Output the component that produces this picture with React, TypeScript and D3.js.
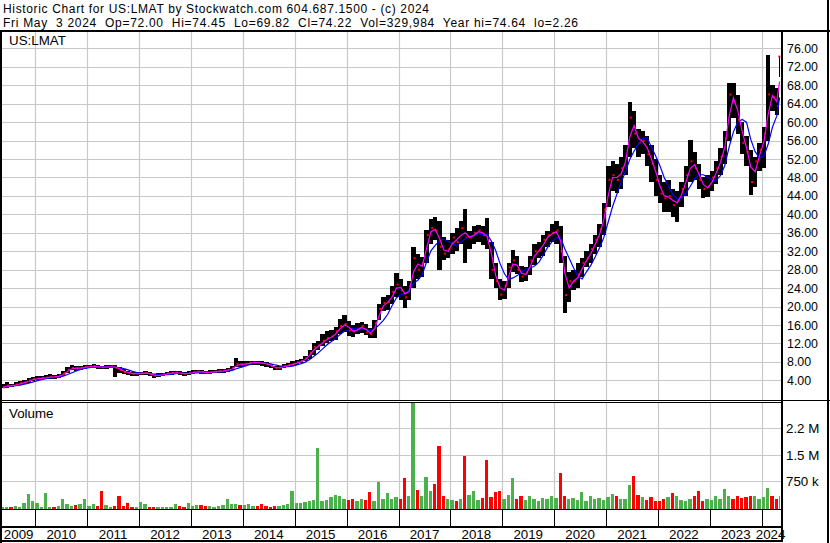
import React, { useEffect, useRef } from "react";
import * as d3 from "d3";

const WIDTH = 830;
const HEIGHT = 543;
const FONT = "'Liberation Sans', Arial, sans-serif";

// first monthly bar, and the last trading day on the chart
const FIRST_MONTH = new Date(2009, 4, 1);
const LAST_DAY = new Date(2024, 4, 3);

const headerLines = [
  "Historic Chart for US:LMAT by Stockwatch.com 604.687.1500 - (c) 2024",
  "Fri May  3 2024  Op=72.00  Hi=74.45  Lo=69.82  Cl=74.22  Vol=329,984  Year hi=74.64  lo=2.26"
];
const headerWidths = [426, 575];
const symbol = "US:LMAT";
const years = [2009, 2010, 2011, 2012, 2013, 2014, 2015, 2016, 2017, 2018, 2019, 2020, 2021, 2022, 2023, 2024];
const priceTicks = [4, 8, 12, 16, 20, 24, 28, 32, 36, 40, 44, 48, 52, 56, 60, 64, 68, 72, 76];
const volumeTicks = [750000, 1500000, 2250000];
const volumeTickLabels = ["750 k", "1.5 M", "2.2 M"];

// monthly highs, May 2009 .. May 2024
const highs = [
  3.2, 3.6, 3.3, 3.6, 3.9, 4.1, 4.6, 4.8,
  4.9, 4.9, 5.1, 5.3, 5.2, 5.4, 6.0, 7.0, 7.3, 7.1, 7.1, 7.3,
  7.4, 7.5, 7.3, 7.2, 7.3, 7.4, 7.3, 6.9, 6.4, 6.1, 5.9, 5.9,
  5.9, 6.0, 5.8, 5.4, 5.5, 5.7, 5.9, 6.0, 6.1, 6.0, 5.8, 6.0,
  6.2, 6.3, 6.2, 6.1, 6.2, 6.3, 6.4, 6.5, 6.7, 7.1, 8.9, 8.1,
  8.2, 8.3, 8.3, 8.2, 8.1, 7.9, 7.6, 7.2, 7.2, 7.5, 7.8, 8.1,
  8.4, 8.7, 9.3, 10.6, 12.2, 12.6, 14.0, 14.6, 14.9, 15.6, 17.2, 18.2,
  16.8, 16.0, 16.4, 16.6, 16.2, 15.4, 17.0, 20.5, 22.0, 22.6, 24.4, 27.3,
  26.0, 24.5, 25.5, 33.0, 31.5, 30.8, 36.6, 39.0, 39.5, 38.5, 35.0, 34.4,
  36.0, 37.0, 38.5, 41.2, 36.5, 37.4, 37.8, 37.5, 39.2, 34.0, 29.5, 26.0,
  25.5, 29.5, 32.3, 31.0, 28.8, 28.6, 31.0, 33.5, 34.0, 35.5, 36.5, 38.0,
  38.5, 37.5, 31.0, 27.5, 28.0, 29.5, 30.5, 32.0, 33.5, 35.5, 38.0, 42.5,
  50.5, 51.5, 51.0, 52.5, 55.0, 64.4, 62.5, 58.5, 58.0, 57.0, 55.0, 52.0,
  48.5, 47.0, 47.5, 45.5, 45.0, 47.0, 50.5, 56.1, 53.5, 51.0, 48.0, 48.5,
  49.5, 51.5, 54.5, 58.0, 68.5, 68.5, 66.0, 60.0, 57.0, 54.0, 52.5, 55.5,
  59.0, 74.6, 68.0, 67.5, 74.45
];

// monthly lows
const lows = [
  2.26, 2.4, 2.5, 2.7, 3.0, 3.2, 3.5, 3.9,
  4.0, 4.1, 4.2, 4.4, 4.3, 4.6, 5.0, 5.6, 6.2, 6.1, 6.2, 6.4,
  6.6, 6.7, 6.5, 6.4, 6.5, 6.6, 4.8, 5.7, 5.3, 5.1, 5.0, 5.0,
  5.1, 5.2, 4.9, 4.5, 4.7, 4.9, 5.1, 5.2, 5.3, 5.1, 5.0, 5.2,
  5.4, 5.5, 5.4, 5.3, 5.4, 5.5, 5.6, 5.7, 5.9, 6.2, 6.8, 7.0,
  7.1, 7.3, 7.4, 7.3, 7.2, 7.0, 6.6, 6.2, 6.3, 6.7, 6.9, 7.2,
  7.4, 7.8, 8.1, 8.7, 9.6, 10.6, 11.4, 12.0, 12.6, 12.7, 14.1, 14.4,
  13.6, 13.4, 14.0, 14.2, 13.8, 13.2, 13.2, 17.0, 19.0, 19.3, 20.6, 22.0,
  21.5, 19.7, 21.5, 24.0, 26.0, 26.5, 29.5, 33.5, 34.5, 28.0, 30.0, 30.5,
  31.5, 32.0, 33.5, 29.4, 32.5, 33.5, 34.0, 33.4, 32.5, 26.0, 24.0, 21.4,
  21.6, 24.0, 27.5, 27.0, 25.3, 25.6, 26.8, 29.0, 30.5, 31.0, 33.0, 34.0,
  33.5, 29.5, 18.6, 21.0, 23.6, 24.0, 26.5, 28.5, 29.5, 31.5, 33.0, 35.5,
  41.5, 45.0, 44.6, 45.5, 48.5, 52.5, 54.5, 52.5, 53.0, 50.5, 47.0, 44.0,
  42.5, 40.5, 40.5, 39.5, 38.4, 41.5, 44.0, 47.0, 47.5, 45.5, 43.5, 43.8,
  45.0, 46.5, 48.5, 51.0, 56.0, 61.0, 57.5, 53.0, 50.5, 44.2, 46.0, 49.5,
  50.0, 56.0, 62.5, 61.5, 69.82
];

// monthly closes
const closes = [
  2.5, 2.9, 2.8, 3.1, 3.4, 3.6, 4.0, 4.3,
  4.4, 4.5, 4.6, 4.8, 4.7, 5.0, 5.5, 6.3, 6.7, 6.6, 6.7, 6.9,
  7.0, 7.1, 6.9, 6.8, 6.9, 7.0, 6.8, 6.2, 5.8, 5.6, 5.4, 5.5,
  5.5, 5.6, 5.3, 5.0, 5.1, 5.3, 5.5, 5.6, 5.7, 5.5, 5.4, 5.6,
  5.8, 5.9, 5.8, 5.7, 5.8, 5.9, 6.0, 6.1, 6.3, 6.6, 7.6, 7.4,
  7.6, 7.8, 7.9, 7.8, 7.7, 7.5, 7.1, 6.6, 6.8, 7.1, 7.3, 7.6,
  7.9, 8.2, 8.8, 10.0, 11.2, 11.6, 12.6, 13.2, 13.5, 14.6, 15.8, 16.2,
  14.8, 14.6, 15.2, 15.8, 14.4, 14.0, 16.4, 19.5, 20.8, 21.0, 23.2, 24.8,
  23.5, 22.0, 24.5, 30.5, 28.0, 29.5, 35.5, 37.0, 36.5, 33.0, 31.5, 32.5,
  35.0, 34.0, 37.0, 35.0, 35.0, 36.0, 36.5, 35.5, 35.0, 28.0, 25.5, 22.6,
  24.5, 28.5, 30.0, 28.0, 26.5, 27.4, 30.0, 32.0, 32.2, 34.5, 35.5, 36.0,
  36.5, 32.0, 22.5, 25.5, 25.5, 27.0, 29.5, 30.5, 32.5, 34.5, 36.8, 41.0,
  47.5, 48.5, 47.5, 50.0, 52.5, 61.0, 57.5, 55.5, 56.0, 53.0, 51.0, 47.5,
  44.5, 43.5, 44.0, 42.0, 43.0, 45.5, 48.5, 51.5, 50.0, 47.5, 45.5, 46.0,
  48.0, 50.0, 52.5, 56.5, 66.0, 64.5, 60.5, 55.5, 53.5, 47.0, 51.5, 54.0,
  57.5, 66.0, 65.5, 63.5, 74.22
];

// typical weekly volume in each month, thousands of shares
const volumes = [
  40, 35, 30, 50, 40, 140, 390, 200,
  150, 40, 420, 40, 35, 60, 250, 100, 50, 80, 120, 250,
  60, 120, 60, 480, 80, 40, 50, 340, 60, 150, 40, 35,
  170, 120, 40, 35, 35, 40, 35, 40, 120, 50, 40, 150,
  70, 90, 80, 70, 50, 40, 50, 80, 260, 120, 110, 90,
  80, 110, 60, 50, 110, 60, 40, 50, 60, 80, 100, 480,
  130, 140, 160, 200, 220, 1690, 210, 230, 300, 360, 340, 240,
  230, 260, 200, 240, 230, 450, 200, 730, 240, 420, 240, 300,
  250, 850, 330, 3000, 500, 330, 870, 480, 680, 1750, 330, 250,
  220, 200, 240, 1470, 380, 480, 220, 280, 1360, 300, 450, 480,
  240, 380, 850, 240, 330, 220, 350, 240, 200, 280, 260, 330,
  280, 990, 350, 240, 280, 220, 450, 200, 330, 260, 280, 220,
  300, 400, 350, 240, 240, 650, 900, 380, 300, 220, 300, 200,
  210, 240, 320, 420, 330, 220, 200, 240, 340, 480, 200, 240,
  220, 330, 240, 540, 330, 240, 350, 280, 310, 330, 350, 240,
  310, 570, 350, 240, 330
];

const frame = {
  left: 2,
  right: 781,
  priceTop: 32,
  priceBottom: 400,
  volumeTop: 402,
  volumeBottom: 509,
  tickBottom: 527,
  bottom: 541
};

const movingAverage = (values: number[], n: number) =>
  values.map((_, i) => d3.mean(values.slice(Math.max(0, i - n + 1), i + 1)) as number);

export default function App() {
  const ref = useRef<SVGSVGElement>(null);

  useEffect(() => {
    const svg = d3.select(ref.current);
    svg.selectAll("*").remove();

    const x = d3
      .scaleTime()
      .domain([new Date(2010, 0, 1), new Date(2024, 0, 1)])
      .range([35.3, 761.7]);
    const y = d3.scaleLinear().domain([0, 76]).range([398.8, 48.4]);
    const yv = d3.scaleLinear().domain([0, 2250000]).range([508, 428.3]);

    const bars = closes.map((c, i) => {
      const start = d3.timeMonth.offset(FIRST_MONTH, i);
      const next = d3.timeMonth.offset(FIRST_MONTH, i + 1);
      const x0 = x(start);
      const x1 = Math.max(x(next < LAST_DAY ? next : LAST_DAY), x0 + 1.5);
      return {
        x0,
        x1,
        high: highs[i],
        low: lows[i],
        close: c,
        volume: volumes[i] * 1000,
        up: i === 0 || c >= closes[i - 1]
      };
    });

    const fast = movingAverage(closes, 2);
    const slow = movingAverage(closes, 5);

    svg.append("rect").attr("width", WIDTH).attr("height", HEIGHT).attr("fill", "#fff");

    const defs = svg.append("defs");
    defs
      .append("clipPath")
      .attr("id", "price-clip")
      .append("rect")
      .attr("x", frame.left)
      .attr("y", frame.priceTop)
      .attr("width", frame.right - frame.left)
      .attr("height", frame.priceBottom - frame.priceTop);
    defs
      .append("clipPath")
      .attr("id", "volume-clip")
      .append("rect")
      .attr("x", frame.left)
      .attr("y", frame.volumeTop)
      .attr("width", frame.right - frame.left)
      .attr("height", frame.volumeBottom - frame.volumeTop);

    const yearStarts = years.slice(1).map(yr => new Date(yr, 0, 1));
    const grid = svg.append("g").attr("stroke", "#c8c8c8").attr("stroke-width", 1.2);

    // vertical year grid in both panels
    grid
      .selectAll(".vgrid")
      .data(yearStarts)
      .enter()
      .append("path")
      .attr("d", d => {
        const gx = Math.round(x(d)) + 0.5;
        return `M${gx},${frame.priceTop}V${frame.priceBottom}M${gx},${frame.volumeTop}V${frame.volumeBottom}`;
      });

    grid
      .selectAll(".pgrid")
      .data(priceTicks)
      .enter()
      .append("line")
      .attr("x1", frame.left)
      .attr("x2", frame.right)
      .attr("y1", d => Math.round(y(d)) + 0.5)
      .attr("y2", d => Math.round(y(d)) + 0.5);

    grid
      .selectAll(".vgrid2")
      .data(volumeTicks)
      .enter()
      .append("line")
      .attr("x1", frame.left)
      .attr("x2", frame.right)
      .attr("y1", d => Math.round(yv(d)) + 0.5)
      .attr("y2", d => Math.round(yv(d)) + 0.5);

    // price bars
    const price = svg.append("g").attr("clip-path", "url(#price-clip)");
    price
      .selectAll(".bar")
      .data(bars)
      .enter()
      .append("rect")
      .attr("x", d => d.x0)
      .attr("width", d => d.x1 - d.x0)
      .attr("y", d => y(d.high))
      .attr("height", d => Math.max(1, y(d.low) - y(d.high)))
      .attr("fill", "#000")
      .attr("shape-rendering", "crispEdges");

    price
      .selectAll(".close")
      .data(bars)
      .enter()
      .append("rect")
      .attr("x", d => d.x1 - 2)
      .attr("width", 2)
      .attr("y", d => y(d.close) - 1)
      .attr("height", 2)
      .attr("fill", "#ff0000");

    const line = d3
      .line<number>()
      .x((_, i) => (bars[i].x0 + bars[i].x1) / 2)
      .y(d => y(d));

    price
      .append("path")
      .attr("d", line(slow))
      .attr("fill", "none")
      .attr("stroke", "#0000ff")
      .attr("stroke-width", 1.2);

    price
      .append("path")
      .attr("d", line(fast))
      .attr("fill", "none")
      .attr("stroke", "#ff00ff")
      .attr("stroke-width", 1.2);

    // volume bars
    svg
      .append("g")
      .attr("clip-path", "url(#volume-clip)")
      .selectAll(".vol")
      .data(bars)
      .enter()
      .append("rect")
      .attr("x", d => d.x0)
      .attr("width", d => Math.max(1, d.x1 - d.x0 - 1))
      .attr("y", d => yv(d.volume))
      .attr("height", d => frame.volumeBottom - yv(d.volume))
      .attr("fill", d => (d.up ? "#4cb04c" : "#ff0000"))
      .attr("shape-rendering", "crispEdges");

    // frame lines
    const lines = svg.append("g").attr("stroke", "#000").attr("shape-rendering", "crispEdges");
    const hline = (x1: number, x2: number, yy: number, w: number) =>
      lines.append("line").attr("x1", x1).attr("x2", x2).attr("y1", yy).attr("y2", yy).attr("stroke-width", w);
    const vline = (xx: number, y1: number, y2: number, w: number) =>
      lines.append("line").attr("x1", xx).attr("x2", xx).attr("y1", y1).attr("y2", y2).attr("stroke-width", w);

    hline(0, WIDTH, 31, 2);
    hline(0, frame.right, 400.5, 1);
    hline(0, frame.right, 402.5, 1);
    hline(frame.right, WIDTH, 400.5, 1);
    hline(0, frame.right, 509.5, 1);
    hline(0, frame.right, 527, 2);
    hline(0, frame.right + 1, 541, 2);
    vline(1, 31, HEIGHT, 2);
    vline(828, 0, HEIGHT, 2);
    vline(781.5, 31, 542, 2);

    lines
      .selectAll(".ytick")
      .data(yearStarts)
      .enter()
      .append("line")
      .attr("x1", d => Math.round(x(d)) + 0.5)
      .attr("x2", d => Math.round(x(d)) + 0.5)
      .attr("y1", frame.volumeBottom)
      .attr("y2", frame.tickBottom)
      .attr("stroke-width", 1);

    // texts
    const text = svg.append("g").attr("font-family", FONT).attr("fill", "#000");
    text
      .selectAll(".head")
      .data(headerLines)
      .enter()
      .append("text")
      .attr("x", 3)
      .attr("y", (_, i) => 12.8 + i * 14)
      .attr("font-size", 12)
      .attr("xml:space", "preserve")
      .attr("textLength", (_, i) => headerWidths[i])
      .attr("lengthAdjust", "spacing")
      .text(d => d);

    text.append("text").attr("x", 9).attr("y", 45).attr("font-size", 13.33).text(symbol);
    text.append("text").attr("x", 9).attr("y", 417.5).attr("font-size", 13.33).text("Volume");

    text
      .selectAll(".plabel")
      .data(priceTicks)
      .enter()
      .append("text")
      .attr("x", 787)
      .attr("y", d => y(d) + 4.5)
      .attr("font-size", 12.4)
      .text(d => d.toFixed(2));

    text
      .selectAll(".vlabel")
      .data(volumeTicks)
      .enter()
      .append("text")
      .attr("x", 786)
      .attr("y", d => yv(d) + 5)
      .attr("font-size", 13.33)
      .text((_, i) => volumeTickLabels[i]);

    text
      .selectAll(".year")
      .data(years)
      .enter()
      .append("text")
      .attr("x", yr => {
        const a = Math.max(frame.left, x(new Date(yr, 0, 1)));
        const b = Math.min(779.5, x(new Date(yr + 1, 0, 1)));
        return (a + b) / 2;
      })
      .attr("y", 539)
      .attr("text-anchor", "middle")
      .attr("font-size", 13.33)
      .text(yr => String(yr));
  }, []);

  return (
    <svg
      ref={ref}
      width={WIDTH}
      height={HEIGHT}
      style={{ position: "absolute", left: 0, top: 0, display: "block" }}
    />
  );
}
